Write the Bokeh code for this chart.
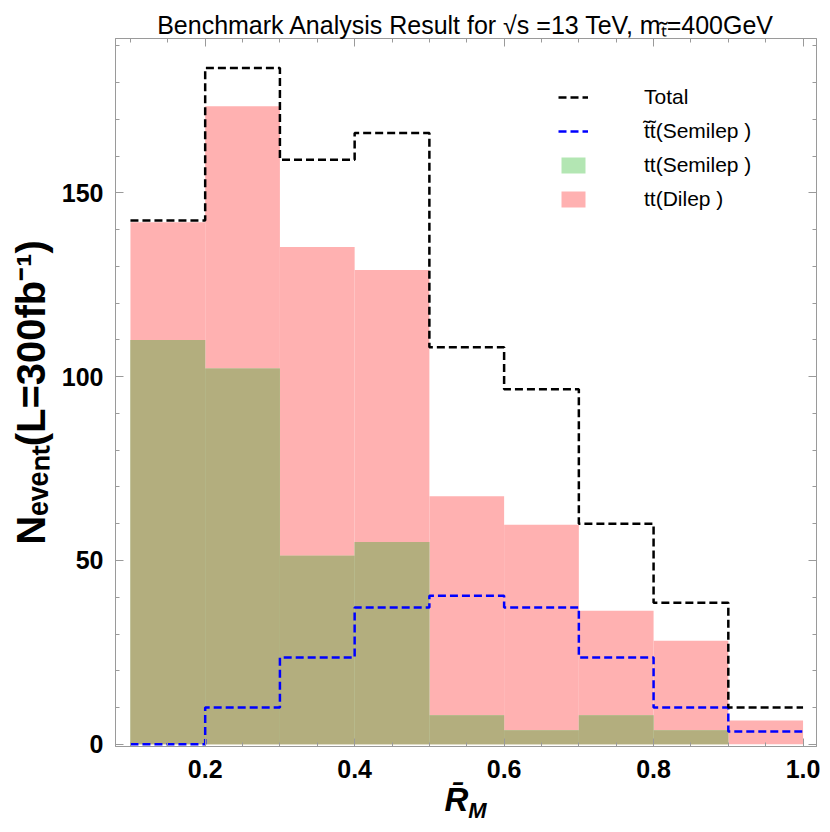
from bokeh.plotting import figure
from bokeh.layouts import column
from bokeh.models import (Range1d, FixedTicker, PrintfTickFormatter, LinearAxis,
                          Legend, LegendItem, ColumnDataSource, Div)
from bokeh.embed import file_html
from bokeh.resources import INLINE

# ---- data ----
bin_left = [0.1, 0.2, 0.3, 0.4, 0.5, 0.6, 0.7, 0.8, 0.9]
bin_right = [0.2, 0.3, 0.4, 0.5, 0.6, 0.7, 0.8, 0.9, 1.0]
total = [142.5, 184.0, 159.0, 166.3, 108.0, 96.6, 60.0, 38.5, 10.0]
stop_semilep = [0.0, 10.0, 23.6, 37.2, 40.4, 37.2, 23.6, 10.0, 3.5]
tt_semilep = [110.0, 102.2, 51.3, 55.0, 7.9, 3.8, 7.9, 3.8, 0.0]
tt_dilep = [142.0, 173.6, 135.3, 129.0, 67.5, 59.7, 36.3, 28.2, 6.5]

x_major_ticks = [0.2, 0.4, 0.6, 0.8, 1.0]
x_minor_ticks = [0.1, 0.15, 0.2, 0.25, 0.3, 0.35, 0.4, 0.45, 0.5, 0.55, 0.6,
                 0.65, 0.7, 0.75, 0.8, 0.85, 0.9, 0.95, 1.0]
y_major_ticks = [0, 50, 100, 150]
y_minor_ticks = [0, 10, 20, 30, 40, 50, 60, 70, 80, 90, 100, 110, 120, 130,
                 140, 150, 160, 170, 180, 190]

title_text = "Benchmark Analysis Result for \u221as =13 TeV, m\u209c\u0303=400GeV"
xlabel_main = "R&#772;"
xlabel_sub = "M"
ylabel = "N\u2091\u1d65\u2091\u2099\u209c(L=300fb\u207b\u00b9)"
labels = ["Total", "t\u0303t\u0303(Semilep )", "tt(Semilep )", "tt(Dilep )"]

PINK = "#ffb1b1"
OLIVE = "#b3ae7e"
GREEN = "#b3e6b3"
FRAME = "#9a9a9a"
FONT = "Liberation Sans"

W, H = 821, 791
BL, BR, BT, BB = 115, 5, 38, 45


def steps(left, right, vals):
    xs, ys = [], []
    for l, r, v in zip(left, right, vals):
        xs += [l, r]
        ys += [v, v]
    return xs, ys


p = figure(width=W, height=H, x_range=Range1d(0.08, 1.018),
           y_range=Range1d(-0.6, 192), output_backend="svg",
           toolbar_location=None, min_border_left=BL, min_border_right=BR,
           min_border_top=BT, min_border_bottom=BB)
p.grid.visible = False
p.outline_line_color = FRAME
p.background_fill_color = "white"
p.border_fill_color = "white"

p.title.text = title_text
p.title.align = "center"
p.title.text_font = FONT
p.title.text_font_size = "25px"
p.title.text_font_style = "normal"
p.title.text_color = "black"
p.title.standoff = 0

src = ColumnDataSource(dict(left=bin_left, right=bin_right, dilep=tt_dilep,
                            semi=tt_semilep))
r_dilep = p.quad(left="left", right="right", bottom=0, top="dilep", source=src,
                 fill_color=PINK, line_color=None)
r_green = p.quad(left="left", right="right", bottom=0, top="semi", source=src,
                 fill_color=GREEN, line_color=None)
# overlap of the two translucent histograms
p.quad(left="left", right="right", bottom=0, top="semi", source=src,
       fill_color=OLIVE, line_color=None)

bx, by = steps(bin_left, bin_right, stop_semilep)
r_blue = p.line(bx, by, line_color="#0000ff", line_width=2.5, line_dash="8 4")
tx, ty = steps(bin_left, bin_right, total)
r_total = p.line(tx, ty, line_color="black", line_width=2.5, line_dash="8 4")


def style_axis(ax, show_labels):
    ax.axis_line_color = FRAME
    ax.major_tick_line_color = FRAME
    ax.minor_tick_line_color = FRAME
    ax.major_tick_in = 8
    ax.major_tick_out = 0
    ax.minor_tick_in = 4
    ax.minor_tick_out = 0
    if show_labels:
        ax.major_label_text_font = FONT
        ax.major_label_text_font_size = "25px"
        ax.major_label_text_font_style = "bold"
        ax.major_label_text_color = "black"
    else:
        ax.major_label_text_font_size = "1px"
        ax.major_label_text_color = None
        ax.major_label_standoff = 0


xt = FixedTicker(ticks=x_major_ticks, minor_ticks=x_minor_ticks)
yt = FixedTicker(ticks=y_major_ticks, minor_ticks=y_minor_ticks)

xa = p.xaxis[0]
xa.ticker = xt
xa.formatter = PrintfTickFormatter(format="%.1f")
style_axis(xa, True)
xa.major_label_standoff = 13

ya = p.yaxis[0]
ya.ticker = yt
style_axis(ya, True)
ya.major_label_standoff = 12
ya.axis_label = ylabel
ya.axis_label_text_font = FONT
ya.axis_label_text_font_size = "40px"
ya.axis_label_text_font_style = "bold"
ya.axis_label_text_color = "black"
ya.axis_label_standoff = 6

top_ax = LinearAxis(ticker=xt)
style_axis(top_ax, False)
p.add_layout(top_ax, "above")
right_ax = LinearAxis(ticker=yt)
style_axis(right_ax, False)
p.add_layout(right_ax, "right")

legend = Legend(items=[LegendItem(label=labels[0], renderers=[r_total]),
                       LegendItem(label=labels[1], renderers=[r_blue]),
                       LegendItem(label=labels[2], renderers=[r_green]),
                       LegendItem(label=labels[3], renderers=[r_dilep])],
                location=(443, 535), padding=0, margin=0, spacing=10,
                glyph_width=30, glyph_height=20, label_height=20,
                label_standoff=56, border_line_alpha=0,
                background_fill_alpha=0, label_text_font=FONT,
                label_text_font_size="21px", label_text_color="black")
p.add_layout(legend, "center")

# x-axis label: R-bar with subscript M, centred under the plot frame
frame_w = W - BL - BR
xlabel_html = (
    f'<div style="margin-left:{BL}px;position:relative;top:-6px;'
    f'width:{frame_w}px;text-align:center;font-family:\'{FONT}\';'
    f'font-weight:bold;font-style:italic;color:black;line-height:30px;">'
    f'<span style="font-size:33px;">{xlabel_main}</span>'
    f'<span style="font-size:22px;position:relative;top:7px;">{xlabel_sub}</span>'
    f'</div>'
)
xlabel_div = Div(text=xlabel_html, width=W, height=33,
                 styles={"overflow": "visible", "margin": "0", "padding": "0"})

root = column(p, xlabel_div, spacing=0)
open("out.html", "w").write(file_html(root, INLINE))
